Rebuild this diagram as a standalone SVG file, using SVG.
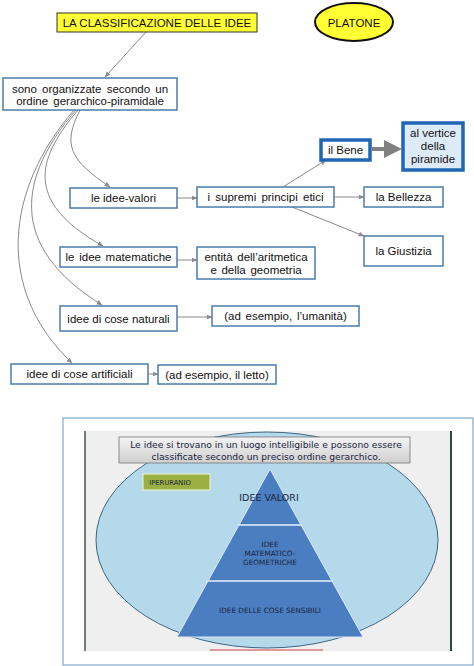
<svg xmlns="http://www.w3.org/2000/svg" width="474" height="666" viewBox="0 0 474 666">
<defs>
<style>
.bx{fill:#fff;stroke:#4a7eaa;stroke-width:1.5}
.thk{fill:#fff;stroke:#1f66b5;stroke-width:3.5}
.t{font-family:"Liberation Sans",Arial,sans-serif;font-size:11.5px;fill:#111;text-anchor:middle}
.c{fill:none;stroke:#8a8a8a;stroke-width:1}
.v{font-family:"DejaVu Sans",Verdana,sans-serif;text-anchor:middle;fill:#1a2440}
</style>
<marker id="ah" viewBox="0 0 10 10" refX="9" refY="5" markerWidth="6" markerHeight="6" orient="auto" markerUnits="userSpaceOnUse">
<path d="M0,1 L10,5 L0,9 z" fill="#8a8a8a"/>
</marker>
<linearGradient id="gb" x1="0" y1="0" x2="0" y2="1">
<stop offset="0" stop-color="#f4f4f4"/><stop offset="1" stop-color="#cfcfcf"/>
</linearGradient>
</defs>
<rect width="474" height="666" fill="#fff"/>

<g id="connectors">
<path class="c" d="M146,32 L105,77" marker-end="url(#ah)"/>
<path class="c" d="M80,110 C62,145 70,160 110,187" marker-end="url(#ah)"/>
<path class="c" d="M78,110 C40,155 20,200 103,246" marker-end="url(#ah)"/>
<path class="c" d="M76,110 C20,175 5,245 102,305" marker-end="url(#ah)"/>
<path class="c" d="M74,110 C5,190 -5,290 72,363" marker-end="url(#ah)"/>
<path class="c" d="M177,198 L197,198" marker-end="url(#ah)"/>
<path class="c" d="M334,197 L364,197" marker-end="url(#ah)"/>
<path class="c" d="M283,187 L326,160" marker-end="url(#ah)"/>
<path class="c" d="M292,207 L364,236" marker-end="url(#ah)"/>
<path class="c" d="M177,260 L197,260" marker-end="url(#ah)"/>
<path class="c" d="M177,317 L212,317" marker-end="url(#ah)"/>
<path class="c" d="M148,374 L158,374" marker-end="url(#ah)"/>
<path d="M372,149 L386,149" stroke="#808080" stroke-width="4"/>
<path d="M384,140 L402,149 L384,158 z" fill="#808080"/>
</g>

<g id="title">
<rect x="57" y="13" width="200" height="19" fill="#ffff33" stroke="#333" stroke-width="1"/>
<text class="t" x="157" y="26.5">LA CLASSIFICAZIONE DELLE IDEE</text>
</g>
<g id="platone">
<ellipse cx="354" cy="22" rx="39" ry="19" fill="#ffff33" stroke="#111" stroke-width="2"/>
<text class="t" x="354" y="26.5">PLATONE</text>
</g>
<g id="sono">
<rect class="bx" x="3" y="78" width="174" height="32"/>
<text class="t" x="90" y="93" word-spacing="2">sono organizzate secondo un</text>
<text class="t" x="90" y="105" word-spacing="2">ordine gerarchico-piramidale</text>
</g>
<g id="bene">
<rect class="thk" x="321" y="140" width="49" height="20"/>
<text class="t" x="345.5" y="154">il Bene</text>
</g>
<g id="vertice">
<rect x="403" y="123" width="60" height="47" fill="#dcebf7" stroke="#1f66b5" stroke-width="3.5"/>
<text class="t" x="433" y="137">al vertice</text>
<text class="t" x="433" y="150">della</text>
<text class="t" x="433" y="163">piramide</text>
</g>
<g id="valori">
<rect class="bx" x="70" y="188" width="107" height="20"/>
<text class="t" x="123.5" y="202">le idee-valori</text>
</g>
<g id="principi">
<rect class="bx" x="197" y="187" width="137" height="20"/>
<text class="t" x="265.5" y="201" word-spacing="2">i supremi principi etici</text>
</g>
<g id="bellezza">
<rect class="bx" x="364" y="187" width="79" height="20"/>
<text class="t" x="403.5" y="201">la Bellezza</text>
</g>
<g id="giustizia">
<rect class="bx" x="364" y="236" width="79" height="30"/>
<text class="t" x="403.5" y="255">la Giustizia</text>
</g>
<g id="matematiche">
<rect class="bx" x="60" y="247" width="117" height="20"/>
<text class="t" x="118.5" y="261" word-spacing="1.5">le idee matematiche</text>
</g>
<g id="entita">
<rect class="bx" x="197" y="247" width="118" height="32"/>
<text class="t" x="256" y="261" word-spacing="1.5">entità dell’aritmetica</text>
<text class="t" x="256" y="274" word-spacing="1.5">e della geometria</text>
</g>
<g id="naturali">
<rect class="bx" x="60" y="306" width="117" height="25"/>
<text class="t" x="118.5" y="322.5">idee di cose naturali</text>
</g>
<g id="umanita">
<rect class="bx" x="212" y="306" width="147" height="20"/>
<text class="t" x="285.5" y="320" word-spacing="1.5">(ad esempio, l’umanità)</text>
</g>
<g id="artificiali">
<rect class="bx" x="11" y="364" width="137" height="20"/>
<text class="t" x="79.5" y="378">idee di cose artificiali</text>
</g>
<g id="letto">
<rect class="bx" x="158" y="365" width="118" height="19"/>
<text class="t" x="217" y="378.5">(ad esempio, il letto)</text>
</g>

<g id="immagine">
<rect x="63" y="418" width="410" height="247" fill="#fff" stroke="#7fa8c8" stroke-width="1.2"/>
<rect x="85" y="431" width="366" height="220" fill="#efefef"/>
<line x1="85" y1="431" x2="85" y2="651" stroke="#1a2a22" stroke-width="1.2"/>
<line x1="451" y1="431" x2="451" y2="651" stroke="#0d3a2a" stroke-width="1.8"/>
<ellipse cx="267" cy="540" rx="171" ry="108" fill="#b3d9ea" stroke="#3f6480" stroke-width="1"/>
<rect x="119" y="437" width="291" height="26" fill="url(#gb)" stroke="#777" stroke-width="0.8"/>
<text class="v" x="266" y="448" font-size="9.2" fill="#222">Le idee si trovano in un luogo intelligibile e possono essere</text>
<text class="v" x="266" y="459.5" font-size="9.2" fill="#222">classificate secondo un preciso ordine gerarchico.</text>
<rect x="143" y="474" width="67" height="16" fill="#9bb040" stroke="#e6ecd0" stroke-width="1.2"/>
<text class="v" x="170" y="485" font-size="6.8" fill="#1d2a10">IPERURANIO</text>
<path d="M270,469 L177,637 L363,637 Z" fill="#4a7ec0"/>
<line x1="238" y1="525" x2="302" y2="525" stroke="#eaf2fa" stroke-width="1.5"/>
<line x1="206" y1="581" x2="333" y2="581" stroke="#eaf2fa" stroke-width="1.5"/>
<path d="M270,469 L177,637 L363,637 Z" fill="none" stroke="#dbe8f5" stroke-width="1"/>
<text class="v" x="269" y="501" font-size="9.5">IDEE VALORI</text>
<text class="v" x="270" y="547" font-size="7.3">IDEE</text>
<text class="v" x="270" y="556" font-size="7.3">MATEMATICO-</text>
<text class="v" x="270" y="565" font-size="7.3">GEOMETRICHE</text>
<text class="v" x="270" y="613" font-size="7.3">IDEE DELLE COSE SENSIBILI</text>
<rect x="210" y="649" width="113" height="2" fill="#e19a9a"/>
</g>
</svg>
